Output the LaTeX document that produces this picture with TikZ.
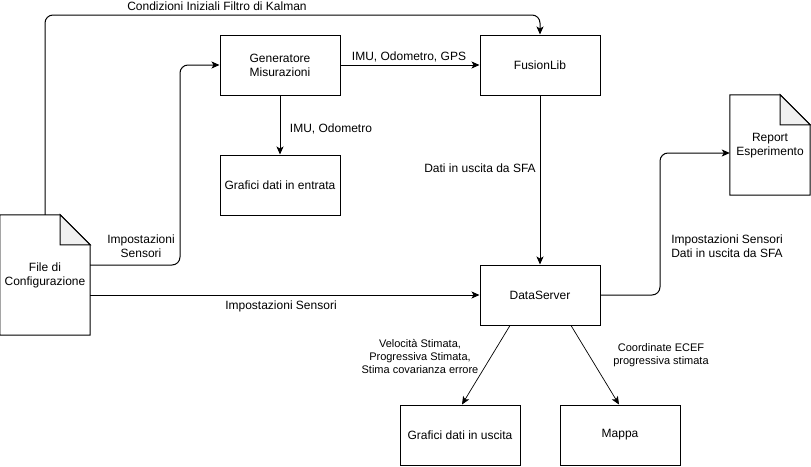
\documentclass[tikz,border=0pt]{standalone}
\usepackage{fontspec}
\setmainfont{Liberation Sans}
\usetikzlibrary{arrows.meta,calc,backgrounds}
\begin{document}
\begin{tikzpicture}[x=1pt,y=-1pt,
  box/.style={draw,line width=1pt,minimum width=120pt,minimum height=60pt,inner sep=0pt,align=center,font=\fontsize{12}{14}\selectfont},
  docbox/.style={minimum width=#1,inner sep=0pt,align=center,font=\fontsize{12}{14}\selectfont},
  lbl/.style={inner sep=0pt,align=center,font=\fontsize{12}{14}\selectfont},
  slbl/.style={inner sep=0pt,align=center,font=\fontsize{11}{13}\selectfont},
  arr/.style={line width=1pt,-{Stealth[length=8pt,width=7pt,inset=2pt]}},
  foldfill/.style={fill=black!6}]
\useasboundingbox (0,0) rectangle (811,466);
% nodes
\node[box] (gen) at (280,65) {Generatore\\Misurazioni};
\node[box] (fus) at (540,65) {FusionLib};
\node[box] (gin) at (280,185) {Grafici dati in entrata};
\node[box] (ds) at (540,295) {DataServer};
\node[box] (gu) at (460,435) {Grafici dati in uscita};
\node[box] (map) at (620,435) {Mappa};
\node[docbox=90pt,minimum height=120pt] (file) at (45,275) {File di\\Configurazione};
\node[docbox=80pt,minimum height=100pt] (rep) at (770,146) {Report\\Esperimento};
% document shapes
\begin{scope}[on background layer]
\draw[line width=1pt,fill=white] (file.north west) -- ($(file.north east)+(-30,0)$) -- ($(file.north east)+(0,30)$) -- (file.south east) -- (file.south west) -- cycle;
\draw[line width=1pt,foldfill] ($(file.north east)+(-30,0)$) -- ($(file.north east)+(-30,30)$) -- ($(file.north east)+(0,30)$) -- cycle;
\draw[line width=1pt,fill=white] ($(rep.north west)+(0,-1)$) -- ($(rep.north east)+(-30,-1)$) -- ($(rep.north east)+(0,29)$) -- ($(rep.south east)+(0,-1)$) -- ($(rep.south west)+(0,-1)$) -- cycle;
\draw[line width=1pt,foldfill] ($(rep.north east)+(-30,-1)$) -- ($(rep.north east)+(-30,29)$) -- ($(rep.north east)+(0,29)$) -- cycle;
\end{scope}
% connectors
\coordinate (topy) at (0,15);
\draw[arr,rounded corners=8pt] (file.north) -- (file.north|-topy) -- (fus.north|-topy) -- (fus.north);
\node[lbl] (l1) at (217,6) {Condizioni Iniziali Filtro di Kalman};
\draw[arr] (gen) -- (fus);
\node[lbl] (l2) at (409,57) {IMU, Odometro, GPS};
\draw[arr] (gen) -- (gin);
\node[lbl] (l3) at (331,129) {IMU, Odometro};
\coordinate (bx) at (180,0);
\draw[arr,rounded corners=8pt] ($(file.east)+(0,-10)$) -- (bx|-{$(file.east)+(0,-10)$}) -- (bx|-gen.west) -- (gen.west);
\node[lbl] (l4) at (141,246) {Impostazioni\\Sensori};
\draw[arr] ($(file.east)+(0,20)$) -- (ds.west);
\node[lbl] (l5) at (281,306) {Impostazioni Sensori};
\draw[arr] (fus) -- (ds);
\node[lbl] (l6) at (480,168) {Dati in uscita da SFA};
\coordinate (rx) at (660,0);
\draw[arr,rounded corners=8pt] (ds.east) -- (rx|-ds.east) -- (rx|-{$(rep.west)+(0,7)$}) -- ($(rep.west)+(0,7)$);
\node[lbl,align=left] (l7) at (727,246) {Impostazioni Sensori\\Dati in uscita da SFA};
\draw[arr,line width=0.7pt] ($(ds.south)+(-30,0)$) -- ($(gu.north)+(2,0)$);
\node[slbl] (l8) at (420,356) {Velocità Stimata,\\Progressiva Stimata,\\Stima covarianza errore};
\draw[arr,line width=0.7pt] ($(ds.south)+(31,0)$) -- ($(map.north)+(-1,0)$);
\node[slbl] (l9) at (661,355) {Coordinate ECEF\\progressiva stimata};
\end{tikzpicture}
\end{document}
